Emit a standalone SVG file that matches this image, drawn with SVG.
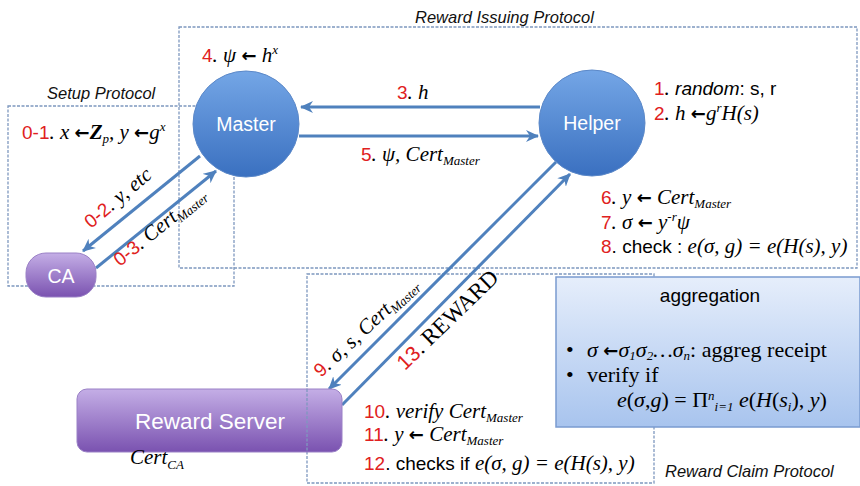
<svg xmlns="http://www.w3.org/2000/svg" width="860" height="486" viewBox="0 0 860 486">
<defs>
<linearGradient id="gBlue" x1="0" y1="0" x2="0" y2="1">
<stop offset="0" stop-color="#74a6e6"/><stop offset="1" stop-color="#3a70c0"/>
</linearGradient>
<linearGradient id="gPurple" x1="0" y1="0" x2="0" y2="1">
<stop offset="0" stop-color="#c4aee6"/><stop offset="1" stop-color="#7a52b0"/>
</linearGradient>
<linearGradient id="gAgg" x1="0" y1="0" x2="0" y2="1">
<stop offset="0" stop-color="#e6eefb"/><stop offset="1" stop-color="#a8c4ee"/>
</linearGradient>
<marker id="ah" markerUnits="userSpaceOnUse" markerWidth="14" markerHeight="12" refX="12" refY="6" orient="auto">
<path d="M0,0 L13,6 L0,12 L4,6 z" fill="#4f81bd"/>
</marker>
<style>
.box{fill:none;stroke:#7e98bf;stroke-width:1.3;stroke-dasharray:3 1.5}
.con{stroke:#4f81bd;stroke-width:3;fill:none}
.t{font-family:"Liberation Serif",serif;font-style:italic;font-size:21px;fill:#000}
.s{font-family:"Liberation Sans",Arial,sans-serif;font-style:normal;font-size:19px}
.si{font-family:"Liberation Sans",Arial,sans-serif;font-style:italic;font-size:19px}
.r{font-family:"Liberation Sans",Arial,sans-serif;font-style:normal;font-size:19px;fill:#e02020}
.ar{font-family:"DejaVu Sans",sans-serif;font-style:normal;font-weight:bold;font-size:18px}
.sub{font-size:13px}
.lab{font-family:"Liberation Sans",Arial,sans-serif;font-style:italic;font-size:16.5px;fill:#111}
.nl{font-family:"Liberation Sans",Arial,sans-serif;font-size:19.5px;fill:#fff;text-anchor:middle}
.ag{font-family:"Liberation Serif",serif;font-size:22px;fill:#000}
</style>
</defs>
<rect width="860" height="486" fill="#fff"/>

<g id="frames">
<rect class="box" x="179" y="27" width="678" height="241"/>
<rect class="box" x="8" y="106" width="226" height="180"/>
<rect class="box" x="307" y="274" width="347" height="209"/>
</g>

<g id="aggregation">
<rect x="556" y="277" width="304" height="150" fill="url(#gAgg)" stroke="#7a9bd0" stroke-width="1.5"/>
<text x="710" y="302" font-family="Liberation Sans, Arial, sans-serif" font-size="19" text-anchor="middle">aggregation</text>
<text class="ag" y="357"><tspan x="566">•</tspan><tspan x="587" font-style="italic">σ </tspan><tspan class="ar">←</tspan><tspan font-style="italic">σ</tspan><tspan font-style="italic" font-size="13" dy="3">1</tspan><tspan font-style="italic" dy="-3">σ</tspan><tspan font-style="italic" font-size="13" dy="3">2</tspan><tspan font-style="italic" dy="-3">…σ</tspan><tspan font-style="italic" font-size="13" dy="3">n</tspan><tspan dy="-3">: aggreg receipt</tspan></text>
<text class="ag" y="382"><tspan x="566">•</tspan><tspan x="587">verify if</tspan></text>
<text class="ag" y="407" x="617"><tspan font-style="italic">e</tspan>(<tspan font-style="italic">σ</tspan>,<tspan font-style="italic">g</tspan>) = Π<tspan font-style="italic" font-size="13" dy="-7">n</tspan><tspan font-style="italic" font-size="13" dy="11">i=1</tspan><tspan dy="-4"> </tspan><tspan font-style="italic">e</tspan>(<tspan font-style="italic">H</tspan>(<tspan font-style="italic">s</tspan><tspan font-style="italic" font-size="13" dy="4">i</tspan><tspan dy="-4">), </tspan><tspan font-style="italic">y</tspan>)</text>
</g>

<g id="connectors">
<line class="con" x1="540" y1="107" x2="301" y2="107" marker-end="url(#ah)"/>
<line class="con" x1="299" y1="136" x2="538" y2="136" marker-end="url(#ah)"/>
<line class="con" x1="200" y1="156" x2="83" y2="251" marker-end="url(#ah)"/>
<line class="con" x1="96" y1="268" x2="216" y2="171" marker-end="url(#ah)"/>
<line class="con" x1="556" y1="162" x2="329" y2="389" marker-end="url(#ah)"/>
<line class="con" x1="342" y1="405" x2="570" y2="174" marker-end="url(#ah)"/>
</g>

<g id="master">
<circle cx="246" cy="124" r="53" fill="url(#gBlue)" stroke="#5b88c8" stroke-width="1"/>
<text class="nl" x="246" y="131">Master</text>
</g>
<g id="helper">
<circle cx="592" cy="123" r="53" fill="url(#gBlue)" stroke="#5b88c8" stroke-width="1"/>
<text class="nl" x="592" y="130">Helper</text>
</g>
<g id="ca">
<rect x="26" y="253" width="70" height="44" rx="20" fill="url(#gPurple)" stroke="#9a80c6"/>
<text class="nl" x="61" y="283" font-size="21">CA</text>
</g>
<g id="reward-server">
<rect x="77" y="389" width="265" height="63" rx="10" fill="url(#gPurple)" stroke="#9a80c6"/>
<text class="nl" x="210" y="429" style="font-size:22.5px">Reward Server</text>
</g>
<line class="box" x1="307" y1="389" x2="307" y2="452"/>

<g id="labels">
<text class="lab" x="415" y="23">Reward Issuing Protocol</text>
<text class="lab" x="47" y="99">Setup Protocol</text>
<text class="lab" x="665" y="477">Reward Claim Protocol</text>

<text class="t" x="22" y="139"><tspan class="r">0-1</tspan>. x <tspan class="ar">←</tspan><tspan font-weight="bold">Z</tspan><tspan class="sub" dy="4">p</tspan><tspan dy="-4">, y </tspan><tspan class="ar">←</tspan>g<tspan class="sub" dy="-8">x</tspan></text>

<text class="t" x="202" y="62"><tspan class="r">4</tspan>. ψ <tspan class="ar">←</tspan> h<tspan class="sub" dy="-8">x</tspan></text>
<text class="t" x="397" y="99"><tspan class="r">3</tspan>. h</text>
<text class="t" x="361" y="161"><tspan class="r">5</tspan>. ψ, Cert<tspan class="sub" dy="4">Master</tspan></text>

<text class="t" x="654" y="95"><tspan class="r">1</tspan>. <tspan class="si">random</tspan><tspan class="s">: s, r</tspan></text>
<text class="t" x="654" y="120"><tspan class="r">2</tspan>. h <tspan class="ar">←</tspan>g<tspan class="sub" dy="-8">r</tspan><tspan dy="8">H(s)</tspan></text>
<text class="t" x="601" y="204"><tspan class="r">6</tspan>. y <tspan class="ar">←</tspan> Cert<tspan class="sub" dy="4">Master</tspan></text>
<text class="t" x="601" y="229"><tspan class="r">7</tspan>. σ <tspan class="ar">←</tspan> y<tspan class="sub" dy="-8">-r</tspan><tspan dy="8">ψ</tspan></text>
<text class="t" x="601" y="253"><tspan class="r">8</tspan><tspan class="s">. check : </tspan>e(σ, g) = e(H(s), y)</text>

<text class="t" x="364" y="418"><tspan class="r">10</tspan>. verify Cert<tspan class="sub" dy="4">Master</tspan></text>
<text class="t" x="364" y="441"><tspan class="r">11</tspan>. y <tspan class="ar">←</tspan> Cert<tspan class="sub" dy="4">Master</tspan></text>
<text class="t" x="364" y="470"><tspan class="r">12</tspan><tspan class="s">. checks if </tspan>e(σ, g) = e(H(s), y)</text>

<text class="t" x="130" y="464">Cert<tspan class="sub" dy="5">CA</tspan></text>

<text class="t" transform="translate(91,229) rotate(-40)"><tspan class="r">0-2</tspan>. y, etc</text>
<text class="t" transform="translate(120,267) rotate(-39)"><tspan class="r">0-3</tspan>. Cert<tspan class="sub" dy="4">Master</tspan></text>
<text class="t" transform="translate(321,378) rotate(-43)"><tspan class="r">9</tspan>. σ, s, Cert<tspan class="sub" dy="4">Master</tspan></text>
<text class="t" style="font-size:23px" transform="translate(405,371) rotate(-44)"><tspan class="r" style="font-size:21px">13</tspan><tspan font-style="normal">. REWARD</tspan></text>
</g>
</svg>
